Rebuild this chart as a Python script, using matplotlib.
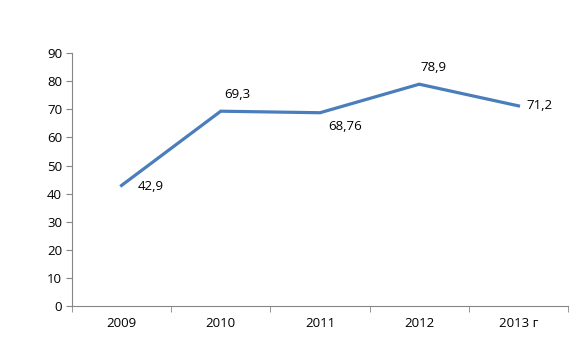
import matplotlib.pyplot as plt
import numpy as np

years = ['2009', '2010', '2011', '2012', '2013 г']
values = [42.9, 69.3, 68.76, 78.9, 71.2]
labels = ['42,9', '69,3', '68,76', '78,9', '71,2']
# label offsets in points from each point
offsets = [(21, -1), (12, 12), (18, -10), (10, 12), (15, 0)]

plt.rcParams['font.family'] = ['Open Sans', 'DejaVu Sans']

fig = plt.figure(figsize=(5.75, 3.44), dpi=100)
ax = fig.add_axes([0.125, 0.110, 0.863, 0.736])

x = np.arange(len(years))
ax.plot(x, values, color='#4A7EBB', lw=2.3, solid_joinstyle='miter')

for xi, v, lab, off in zip(x, values, labels, offsets):
    ax.annotate(lab, (xi, v), xytext=off, textcoords='offset points',
                ha='center', va='center', fontsize=9.5, color='black')

ax.set_xlim(-0.5, len(years) - 0.5)
ax.set_ylim(0, 90)
ax.set_yticks(range(0, 91, 10))
ax.set_xticks(x)
ax.set_xticklabels(years)
ax.set_xticks(np.arange(-0.5, len(years)), minor=True)
ax.tick_params(axis='x', which='major', length=0, pad=8, labelsize=9.5)
ax.tick_params(axis='x', which='minor', length=4, color='#868686')
ax.tick_params(axis='y', length=4, color='#868686', labelsize=9.5, pad=3)

for s in ['top', 'right']:
    ax.spines[s].set_visible(False)
for s in ['left', 'bottom']:
    ax.spines[s].set_color('#868686')
    ax.spines[s].set_linewidth(0.8)

fig.savefig('out.png', dpi=100)
